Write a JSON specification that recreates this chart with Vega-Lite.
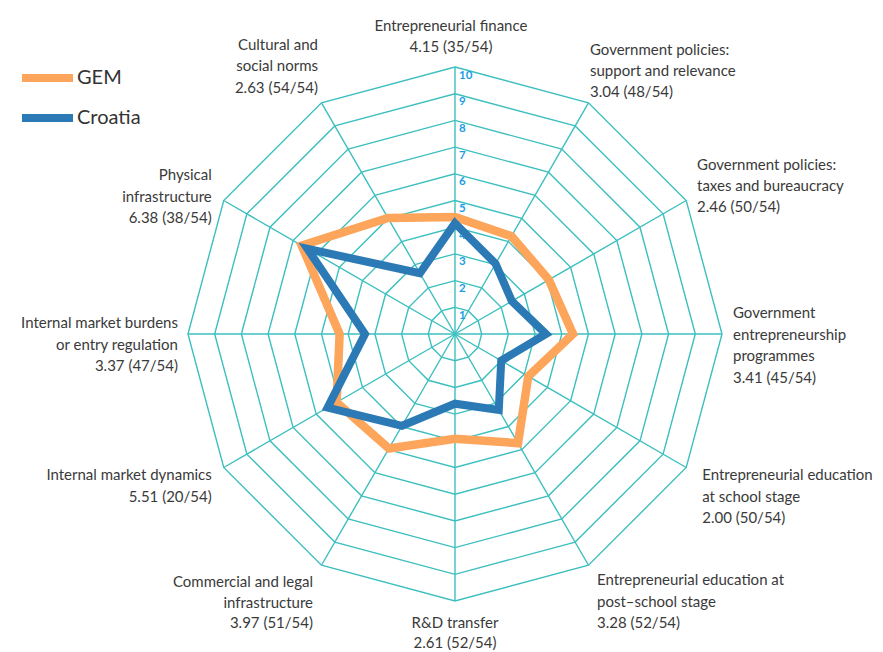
{
  "$schema": "https://vega.github.io/schema/vega-lite/v6.json",
  "width": 883,
  "height": 652,
  "autosize": {"type": "fit", "contains": "padding"},
  "padding": 0,
  "background": "white",
  "config": {"view": {"stroke": null}, "font": "Lato"},
  "datasets": {
    "series": [
      {"k": 0, "series": "GEM", "value": 4.38},
      {"k": 1, "series": "GEM", "value": 4.23},
      {"k": 2, "series": "GEM", "value": 4.06},
      {"k": 3, "series": "GEM", "value": 4.42},
      {"k": 4, "series": "GEM", "value": 3.17},
      {"k": 5, "series": "GEM", "value": 4.72},
      {"k": 6, "series": "GEM", "value": 3.92},
      {"k": 7, "series": "GEM", "value": 4.95},
      {"k": 8, "series": "GEM", "value": 5.12},
      {"k": 9, "series": "GEM", "value": 4.32},
      {"k": 10, "series": "GEM", "value": 6.63},
      {"k": 11, "series": "GEM", "value": 5.02},
      {"k": 0, "series": "Croatia", "value": 4.15},
      {"k": 1, "series": "Croatia", "value": 3.04},
      {"k": 2, "series": "Croatia", "value": 2.46},
      {"k": 3, "series": "Croatia", "value": 3.41},
      {"k": 4, "series": "Croatia", "value": 2.0},
      {"k": 5, "series": "Croatia", "value": 3.28},
      {"k": 6, "series": "Croatia", "value": 2.61},
      {"k": 7, "series": "Croatia", "value": 3.97},
      {"k": 8, "series": "Croatia", "value": 5.51},
      {"k": 9, "series": "Croatia", "value": 3.37},
      {"k": 10, "series": "Croatia", "value": 6.38},
      {"k": 11, "series": "Croatia", "value": 2.63}
    ],
    "rings": [
      {"ring": 1, "ks": [0,1,2,3,4,5,6,7,8,9,10,11]},
      {"ring": 2, "ks": [0,1,2,3,4,5,6,7,8,9,10,11]},
      {"ring": 3, "ks": [0,1,2,3,4,5,6,7,8,9,10,11]},
      {"ring": 4, "ks": [0,1,2,3,4,5,6,7,8,9,10,11]},
      {"ring": 5, "ks": [0,1,2,3,4,5,6,7,8,9,10,11]},
      {"ring": 6, "ks": [0,1,2,3,4,5,6,7,8,9,10,11]},
      {"ring": 7, "ks": [0,1,2,3,4,5,6,7,8,9,10,11]},
      {"ring": 8, "ks": [0,1,2,3,4,5,6,7,8,9,10,11]},
      {"ring": 9, "ks": [0,1,2,3,4,5,6,7,8,9,10,11]},
      {"ring": 10, "ks": [0,1,2,3,4,5,6,7,8,9,10,11]}
    ],
    "axes": [
      {"k": 0, "label": "Entrepreneurial finance\n4.15 (35/54)"},
      {"k": 1, "label": "Government policies:\nsupport and relevance\n3.04 (48/54)"},
      {"k": 2, "label": "Government policies:\ntaxes and bureaucracy\n2.46 (50/54)"},
      {"k": 3, "label": "Government\nentrepreneurship\nprogrammes\n3.41 (45/54)"},
      {"k": 4, "label": "Entrepreneurial education\nat school stage\n2.00 (50/54)"},
      {"k": 5, "label": "Entrepreneurial education at\npost–school stage\n3.28 (52/54)"},
      {"k": 6, "label": "R&D transfer\n2.61 (52/54)"},
      {"k": 7, "label": "Commercial and legal\ninfrastructure\n3.97 (51/54)"},
      {"k": 8, "label": "Internal market dynamics\n5.51 (20/54)"},
      {"k": 9, "label": "Internal market burdens\nor entry regulation\n3.37 (47/54)"},
      {"k": 10, "label": "Physical\ninfrastructure\n6.38 (38/54)"},
      {"k": 11, "label": "Cultural and\nsocial norms\n2.63 (54/54)"}
    ]
  },
  "encoding": {
    "x": {"field": "x", "type": "quantitative", "scale": {"domain": [-17.04, 16.03], "nice": false, "zero": false}, "axis": null},
    "y": {"field": "y", "type": "quantitative", "scale": {"domain": [-11.91, 12.51], "nice": false, "zero": false}, "axis": null}
  },
  "layer": [
    {
      "data": {"name": "rings"},
      "transform": [
        {"flatten": ["ks"], "as": ["k"]},
        {"calculate": "datum.ring*sin(datum.k*PI/6)", "as": "x"},
        {"calculate": "datum.ring*cos(datum.k*PI/6)", "as": "y"}
      ],
      "mark": {"type": "line", "interpolate": "linear-closed", "stroke": "#3DBFBF", "strokeWidth": 1.4},
      "encoding": {
        "detail": {"field": "ring", "type": "nominal"},
        "order": {"field": "k", "type": "quantitative"}
      }
    },
    {
      "data": {"name": "axes"},
      "transform": [
        {"calculate": "10*sin(datum.k*PI/6)", "as": "x"},
        {"calculate": "10*cos(datum.k*PI/6)", "as": "y"}
      ],
      "mark": {"type": "rule", "stroke": "#3DBFBF", "strokeWidth": 1.4},
      "encoding": {"x2": {"datum": 0}, "y2": {"datum": 0}}
    },
    {
      "data": {"name": "rings"},
      "transform": [
        {"calculate": "0", "as": "x"},
        {"calculate": "datum.ring", "as": "y"}
      ],
      "mark": {"type": "text", "align": "left", "baseline": "middle", "dx": 4, "dy": 8.5, "fontSize": 11.5, "fontWeight": "bold", "font": "Lato", "color": "#1A9DE6"},
      "encoding": {"text": {"field": "ring", "type": "nominal"}}
    },
    {
      "data": {"name": "series"},
      "transform": [
        {"filter": "datum.series == 'GEM'"},
        {"calculate": "datum.value*sin(datum.k*PI/6)", "as": "x"},
        {"calculate": "datum.value*cos(datum.k*PI/6)", "as": "y"}
      ],
      "mark": {"type": "line", "interpolate": "linear-closed", "strokeWidth": 8.5, "strokeJoin": "miter"},
      "encoding": {
        "color": {"field": "series", "type": "nominal", "scale": {"domain": ["GEM", "Croatia"], "range": ["#FDA55A", "#2C7AB5"]},
          "legend": {"orient": "none", "legendX": 18, "legendY": 58, "title": null, "symbolType": "stroke", "symbolSize": 2601, "symbolStrokeWidth": 8, "labelFontSize": 20, "labelFont": "Lato", "labelColor": "#333333", "clipHeight": 40, "rowPadding": 0, "labelOffset": 0, "padding": 0}},
        "order": {"field": "k", "type": "quantitative"}
      }
    },
    {
      "data": {"name": "series"},
      "transform": [
        {"filter": "datum.series == 'Croatia'"},
        {"calculate": "datum.value*sin(datum.k*PI/6)", "as": "x"},
        {"calculate": "datum.value*cos(datum.k*PI/6)", "as": "y"}
      ],
      "mark": {"type": "line", "interpolate": "linear-closed", "strokeWidth": 8, "strokeJoin": "miter"},
      "encoding": {
        "color": {"field": "series", "type": "nominal"},
        "order": {"field": "k", "type": "quantitative"}
      }
    },
    {"data": {"name": "axes"}, "transform": [{"filter": "datum.k == 0"}, {"calculate": "10*sin(datum.k*PI/6)", "as": "x"}, {"calculate": "10*cos(datum.k*PI/6)", "as": "y"}],
      "mark": {"type": "text", "align": "center", "baseline": "middle", "dx": -4, "dy": -41, "lineBreak": "\n", "lineHeight": 21, "fontSize": 15, "font": "Lato", "color": "#3A3A3A"},
      "encoding": {"text": {"field": "label", "type": "nominal"}}},
    {"data": {"name": "axes"}, "transform": [{"filter": "datum.k == 1"}, {"calculate": "10*sin(datum.k*PI/6)", "as": "x"}, {"calculate": "10*cos(datum.k*PI/6)", "as": "y"}],
      "mark": {"type": "text", "align": "left", "baseline": "middle", "dx": 1.5, "dy": -52.8, "lineBreak": "\n", "lineHeight": 21, "fontSize": 15, "font": "Lato", "color": "#3A3A3A"},
      "encoding": {"text": {"field": "label", "type": "nominal"}}},
    {"data": {"name": "axes"}, "transform": [{"filter": "datum.k == 2"}, {"calculate": "10*sin(datum.k*PI/6)", "as": "x"}, {"calculate": "10*cos(datum.k*PI/6)", "as": "y"}],
      "mark": {"type": "text", "align": "left", "baseline": "middle", "dx": 10.8, "dy": -35.5, "lineBreak": "\n", "lineHeight": 21, "fontSize": 15, "font": "Lato", "color": "#3A3A3A"},
      "encoding": {"text": {"field": "label", "type": "nominal"}}},
    {"data": {"name": "axes"}, "transform": [{"filter": "datum.k == 3"}, {"calculate": "10*sin(datum.k*PI/6)", "as": "x"}, {"calculate": "10*cos(datum.k*PI/6)", "as": "y"}],
      "mark": {"type": "text", "align": "left", "baseline": "middle", "dx": 11, "dy": -21, "lineBreak": "\n", "lineHeight": 21.5, "fontSize": 15, "font": "Lato", "color": "#3A3A3A"},
      "encoding": {"text": {"field": "label", "type": "nominal"}}},
    {"data": {"name": "axes"}, "transform": [{"filter": "datum.k == 4"}, {"calculate": "10*sin(datum.k*PI/6)", "as": "x"}, {"calculate": "10*cos(datum.k*PI/6)", "as": "y"}],
      "mark": {"type": "text", "align": "left", "baseline": "middle", "dx": 16, "dy": 7.5, "lineBreak": "\n", "lineHeight": 21.5, "fontSize": 15, "font": "Lato", "color": "#3A3A3A"},
      "encoding": {"text": {"field": "label", "type": "nominal"}}},
    {"data": {"name": "axes"}, "transform": [{"filter": "datum.k == 5"}, {"calculate": "10*sin(datum.k*PI/6)", "as": "x"}, {"calculate": "10*cos(datum.k*PI/6)", "as": "y"}],
      "mark": {"type": "text", "align": "left", "baseline": "middle", "dx": 8.5, "dy": 14.8, "lineBreak": "\n", "lineHeight": 21.5, "fontSize": 15, "font": "Lato", "color": "#3A3A3A"},
      "encoding": {"text": {"field": "label", "type": "nominal"}}},
    {"data": {"name": "axes"}, "transform": [{"filter": "datum.k == 6"}, {"calculate": "10*sin(datum.k*PI/6)", "as": "x"}, {"calculate": "10*cos(datum.k*PI/6)", "as": "y"}],
      "mark": {"type": "text", "align": "center", "baseline": "middle", "dx": 0, "dy": 22, "lineBreak": "\n", "lineHeight": 20, "fontSize": 15, "font": "Lato", "color": "#3A3A3A"},
      "encoding": {"text": {"field": "label", "type": "nominal"}}},
    {"data": {"name": "axes"}, "transform": [{"filter": "datum.k == 7"}, {"calculate": "10*sin(datum.k*PI/6)", "as": "x"}, {"calculate": "10*cos(datum.k*PI/6)", "as": "y"}],
      "mark": {"type": "text", "align": "right", "baseline": "middle", "dx": -8.5, "dy": 16.8, "lineBreak": "\n", "lineHeight": 20.5, "fontSize": 15, "font": "Lato", "color": "#3A3A3A"},
      "encoding": {"text": {"field": "label", "type": "nominal"}}},
    {"data": {"name": "axes"}, "transform": [{"filter": "datum.k == 8"}, {"calculate": "10*sin(datum.k*PI/6)", "as": "x"}, {"calculate": "10*cos(datum.k*PI/6)", "as": "y"}],
      "mark": {"type": "text", "align": "right", "baseline": "middle", "dx": -12, "dy": 7.5, "lineBreak": "\n", "lineHeight": 22, "fontSize": 15, "font": "Lato", "color": "#3A3A3A"},
      "encoding": {"text": {"field": "label", "type": "nominal"}}},
    {"data": {"name": "axes"}, "transform": [{"filter": "datum.k == 9"}, {"calculate": "10*sin(datum.k*PI/6)", "as": "x"}, {"calculate": "10*cos(datum.k*PI/6)", "as": "y"}],
      "mark": {"type": "text", "align": "right", "baseline": "middle", "dx": -10, "dy": -11, "lineBreak": "\n", "lineHeight": 21.5, "fontSize": 15, "font": "Lato", "color": "#3A3A3A"},
      "encoding": {"text": {"field": "label", "type": "nominal"}}},
    {"data": {"name": "axes"}, "transform": [{"filter": "datum.k == 10"}, {"calculate": "10*sin(datum.k*PI/6)", "as": "x"}, {"calculate": "10*cos(datum.k*PI/6)", "as": "y"}],
      "mark": {"type": "text", "align": "right", "baseline": "middle", "dx": -12, "dy": -25.5, "lineBreak": "\n", "lineHeight": 21.5, "fontSize": 15, "font": "Lato", "color": "#3A3A3A"},
      "encoding": {"text": {"field": "label", "type": "nominal"}}},
    {"data": {"name": "axes"}, "transform": [{"filter": "datum.k == 11"}, {"calculate": "10*sin(datum.k*PI/6)", "as": "x"}, {"calculate": "10*cos(datum.k*PI/6)", "as": "y"}],
      "mark": {"type": "text", "align": "right", "baseline": "middle", "dx": -3.5, "dy": -57.8, "lineBreak": "\n", "lineHeight": 21.5, "fontSize": 15, "font": "Lato", "color": "#3A3A3A"},
      "encoding": {"text": {"field": "label", "type": "nominal"}}}
  ]
}
